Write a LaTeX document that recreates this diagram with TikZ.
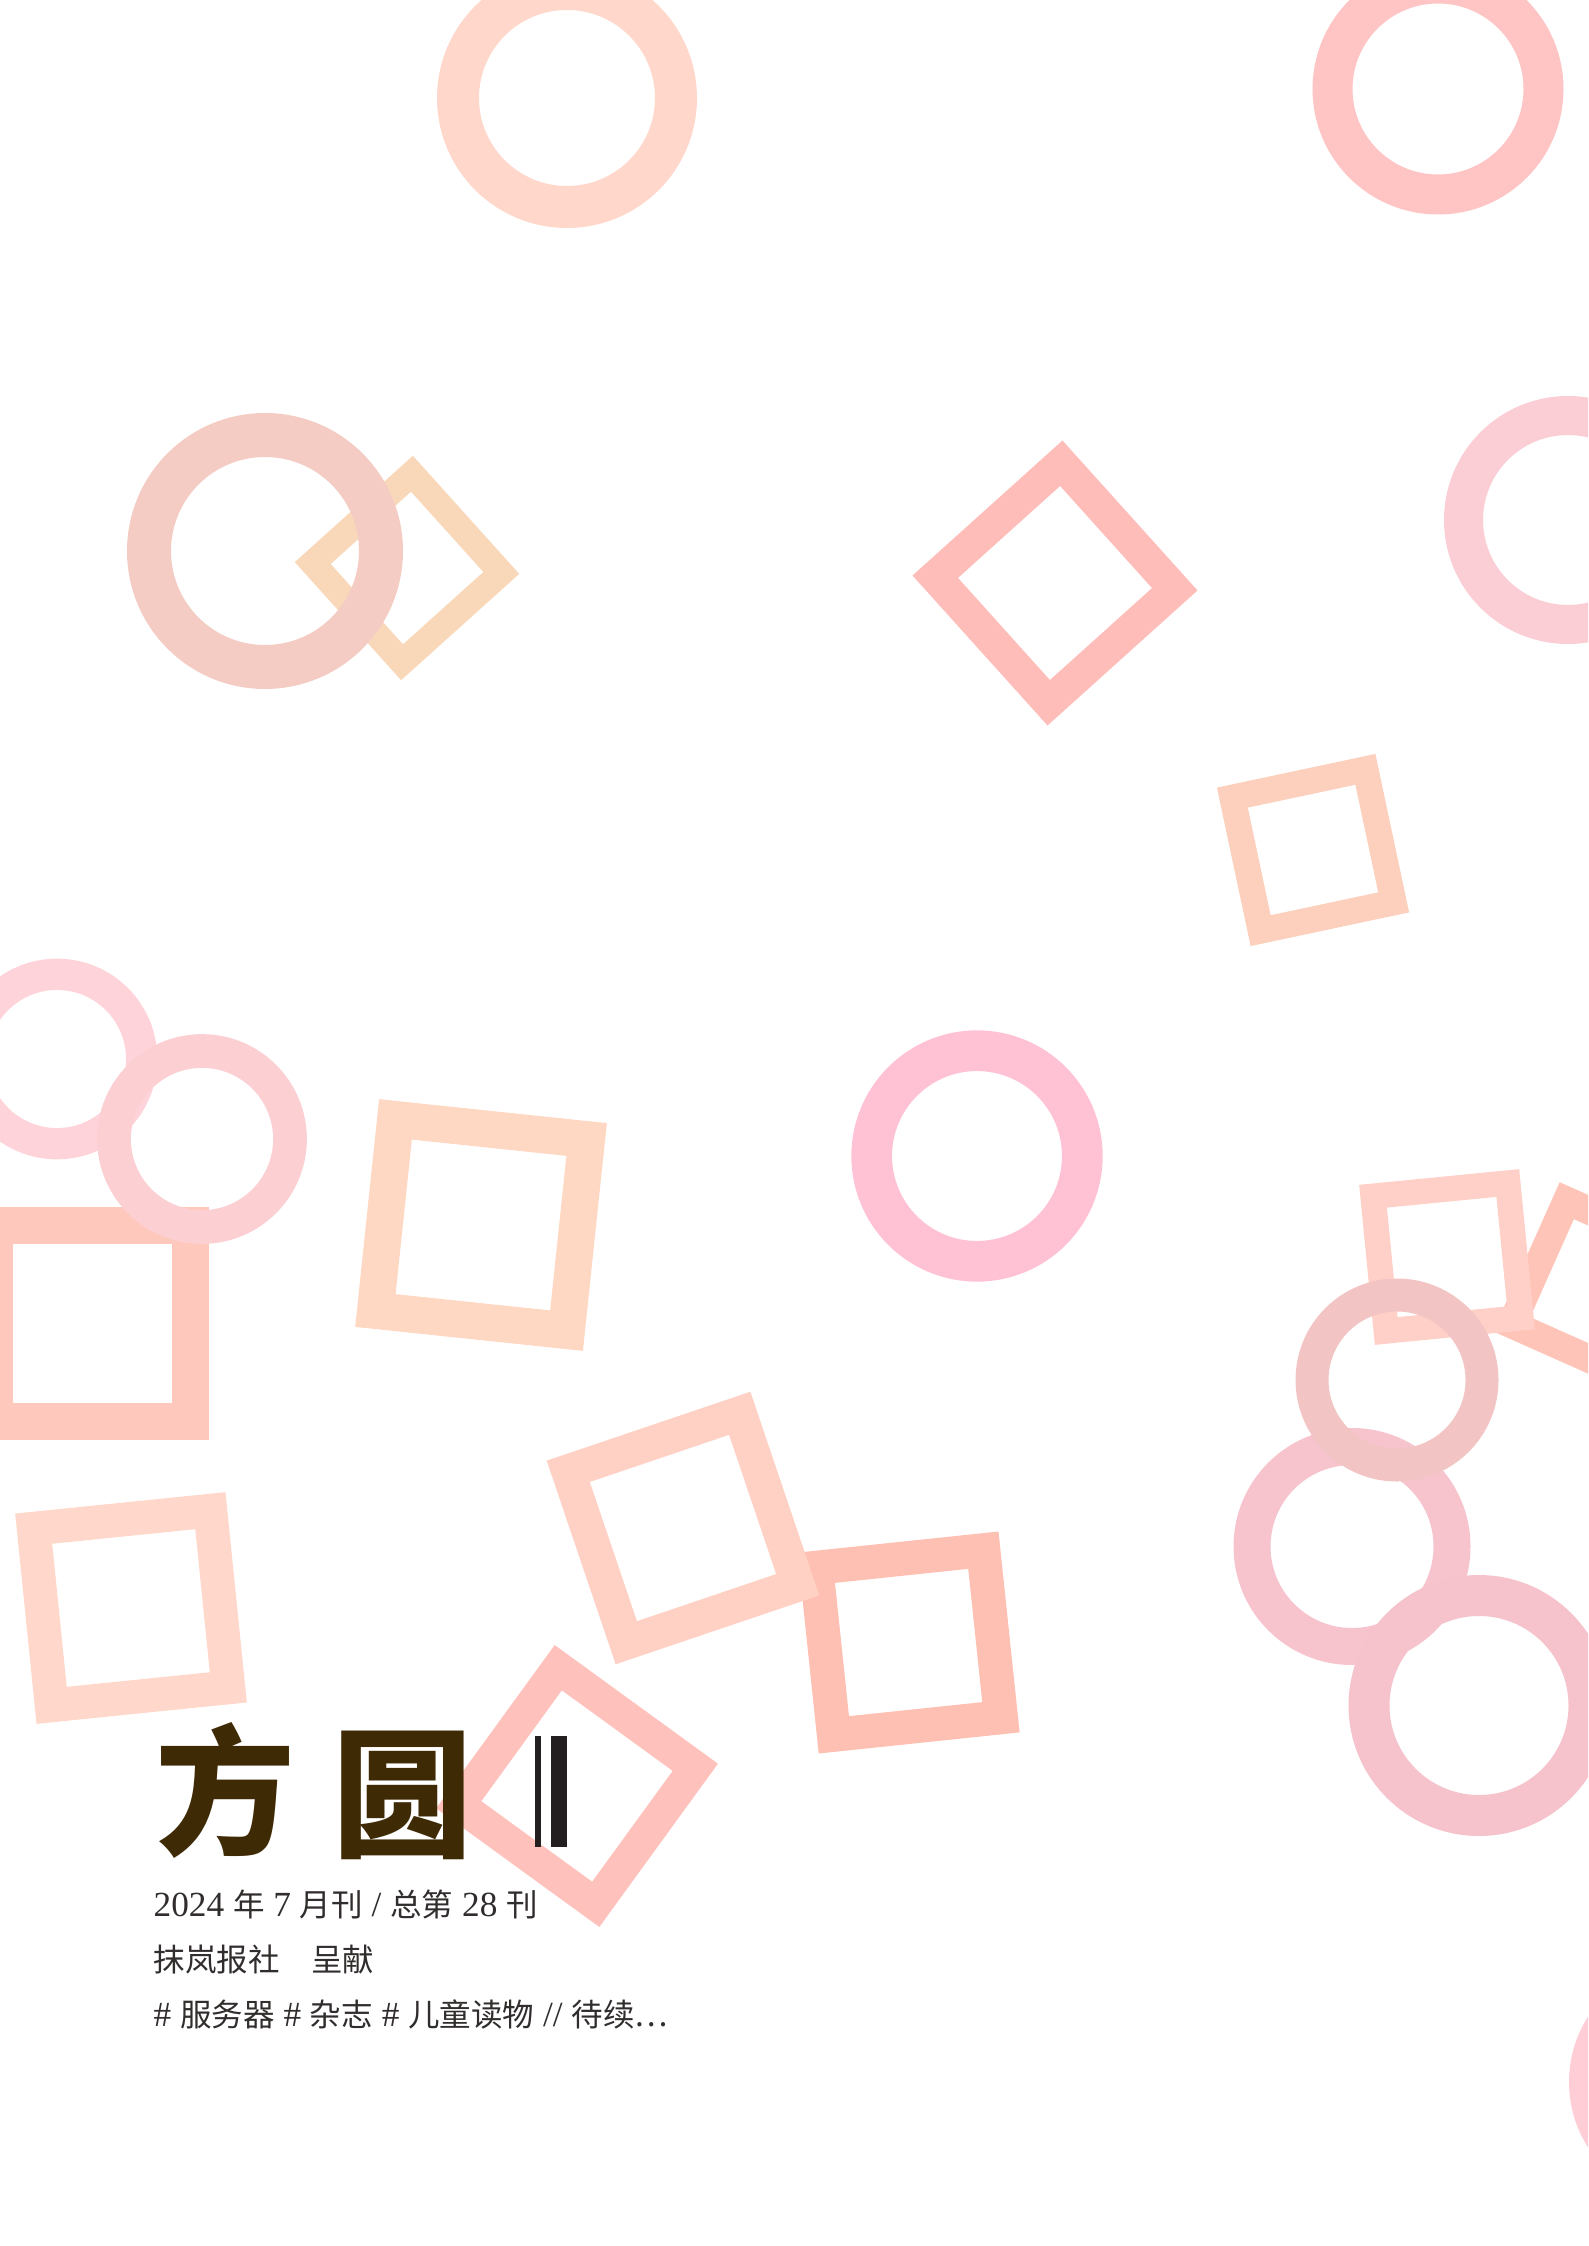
\documentclass[tikz,border=0pt]{standalone}
\usepackage{fontspec}
\setmainfont{Liberation Serif}[Scale=1.12]
\newfontfamily\cjk{Noto Sans CJK SC}
\newcommand{\zh}[1]{{\cjk #1}}
\definecolor{peachA}{HTML}{FFD8CB}
\definecolor{roseA}{HTML}{FFC4C4}
\definecolor{dustyA}{HTML}{F4CCC4}
\definecolor{sandA}{HTML}{F9D8BA}
\definecolor{salmonA}{HTML}{FFBDBA}
\definecolor{blushA}{HTML}{FBCDD4}
\definecolor{apricotA}{HTML}{FDD0BD}
\definecolor{blushB}{HTML}{FFD3DA}
\definecolor{blushC}{HTML}{FCCFD3}
\definecolor{coralA}{HTML}{FFC8BC}
\definecolor{peachB}{HTML}{FFD8C4}
\definecolor{pinkA}{HTML}{FFC2D4}
\definecolor{peachC}{HTML}{FFD0C4}
\definecolor{coralB}{HTML}{FFC0B4}
\definecolor{salmonB}{HTML}{FFC1BC}
\definecolor{peachD}{HTML}{FFD0C8}
\definecolor{coralC}{HTML}{FFC4B8}
\definecolor{dustyB}{HTML}{F2C4C4}
\definecolor{pinkB}{HTML}{F7C4CE}
\definecolor{pinkC}{HTML}{F6C3CC}
\definecolor{pinkD}{HTML}{FFCDD6}
\definecolor{titlebrown}{HTML}{3F2A06}
\definecolor{textgray}{HTML}{322D2D}
\definecolor{barblack}{HTML}{231F20}
% ring: middle radius, band width (px)
\newcommand{\roundframe}[2]{\draw[line width=#2*0.01cm] (0,0) circle [radius=#1];}
% square: middle side, band width (px)
\newcommand{\squareframe}[2]{\draw[line width=#2*0.01cm] ({-#1/2},{-#1/2}) rectangle ({#1/2},{#1/2});}
\tikzset{
  textline/.style={anchor=base west, inner sep=0pt, text=textgray, font=\fontsize{8.96pt}{10pt}\selectfont},
  titlechar/.style={inner sep=0pt, text=titlebrown, font=\cjk\bfseries\fontsize{39.8pt}{40pt}\selectfont}
}

\begin{document}
\begin{tikzpicture}[x=0.01cm, y=-0.01cm]
  \path[use as bounding box, fill=white] (0,0) rectangle (1588,2246);
  \clip (0,0) rectangle (1588,2246);

  \begin{scope}[shift={(567,98)}, color=peachA]
    \roundframe{109}{42}
  \end{scope}
  \begin{scope}[shift={(1438,89)}, color=roseA]
    \roundframe{105.5}{40}
  \end{scope}

  \begin{scope}[shift={(407,568)}, rotate=42, color=sandA]
    \squareframe{133.5}{25.4}
  \end{scope}
  \begin{scope}[shift={(265,551)}, color=dustyA]
    \roundframe{116}{44}
  \end{scope}

  \begin{scope}[shift={(1055,583)}, rotate=42, color=salmonA]
    \squareframe{169.6}{32.2}
  \end{scope}
  \begin{scope}[shift={(1568,520)}, color=blushA]
    \roundframe{104.5}{39}
  \end{scope}
  \begin{scope}[shift={(1313,850)}, rotate=12, color=apricotA]
    \squareframe{136}{26}
  \end{scope}

  \begin{scope}[shift={(57,1059)}, color=blushB]
    \roundframe{84.7}{31.3}
  \end{scope}
  \begin{scope}[shift={(92.5,1323.5)}, color=coralA]
    \squareframe{196}{37}
  \end{scope}
  \begin{scope}[shift={(202,1139)}, color=blushC]
    \roundframe{88}{33.7}
  \end{scope}

  \begin{scope}[shift={(481,1225)}, rotate=-6, color=peachB]
    \squareframe{192.2}{36.8}
  \end{scope}
  \begin{scope}[shift={(977,1156)}, color=pinkA]
    \roundframe{105.3}{40.7}
  \end{scope}
  \begin{scope}[shift={(131,1608)}, rotate=5.8, color=peachA]
    \squareframe{177.6}{33.8}
  \end{scope}

  \begin{scope}[shift={(908.6,1642.5)}, rotate=6, color=coralB]
    \squareframe{168}{34}
  \end{scope}
  \begin{scope}[shift={(683,1528)}, rotate=18.7, color=peachC]
    \squareframe{181}{34}
  \end{scope}

  \begin{scope}[shift={(1601,1290)}, rotate=-24, color=coralC]
    \squareframe{135.3}{28}
  \end{scope}
  \begin{scope}[shift={(1447,1257)}, rotate=5.6, color=peachD]
    \squareframe{135.4}{25.4}
  \end{scope}
  \begin{scope}[shift={(1352,1546.5)}, color=pinkB]
    \roundframe{100}{37}
  \end{scope}
  \begin{scope}[shift={(1479,1705.5)}, color=pinkC]
    \roundframe{110}{41}
  \end{scope}
  \begin{scope}[shift={(1397,1380)}, color=dustyB]
    \roundframe{85}{33}
  \end{scope}
  \begin{scope}[shift={(1691,2082)}, color=pinkD]
    \roundframe{102}{40}
  \end{scope}

  \begin{scope}[shift={(577,1786)}, rotate=54, color=salmonB]
    \squareframe{169.4}{32.4}
  \end{scope}

  % title
  \node[titlechar] (fang) at (225.6,1790) {方};
  \node[titlechar] (yuan) at (402,1795.5) {圆};
  \fill[barblack] (535,1736) rectangle (541,1847);
  \fill[barblack] (550.6,1736) rectangle (567,1847);

  % imprint lines
  \node[textline] (issue) at (153,1916) {2024 \zh{年} 7 \zh{月刊} / \zh{总第} 28 \zh{刊}};
  \node[textline] (press) at ([yshift=-0.55cm]issue.base west) {\zh{抹岚报社　呈献}};
  \node[textline] (tags) at ([yshift=-0.55cm]press.base west) {\# \zh{服务器} \# \zh{杂志} \# \zh{儿童读物} // \zh{待续⋯}};
\end{tikzpicture}
\end{document}
